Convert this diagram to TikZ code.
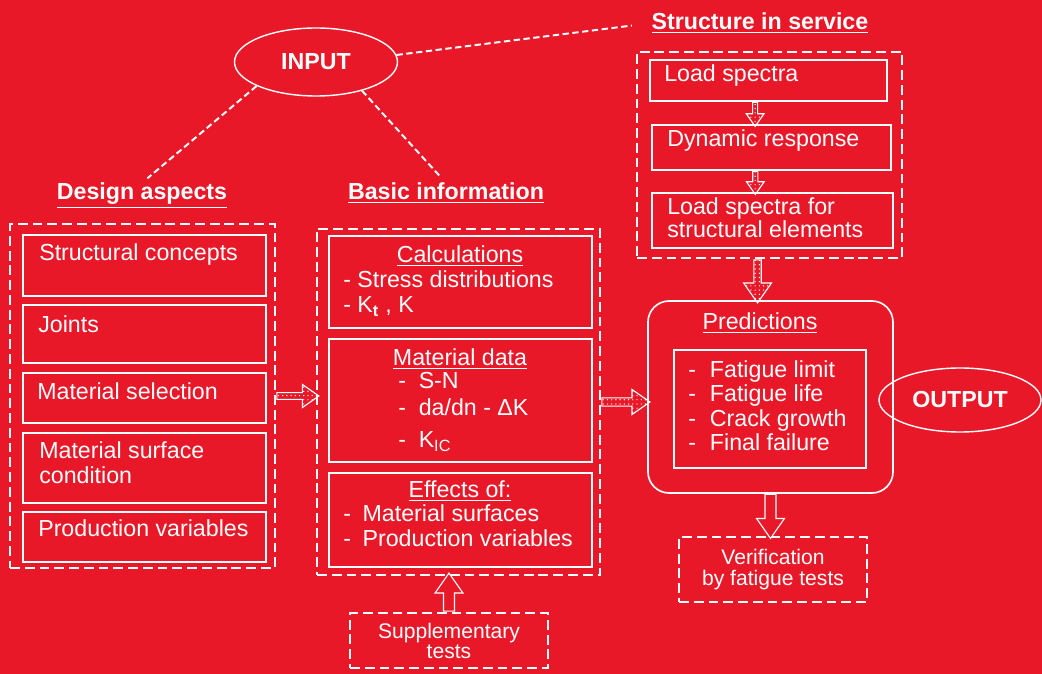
\documentclass[tikz,border=0pt]{standalone}
\usepackage{fontspec}
\setmainfont{Liberation Sans}
\usetikzlibrary{shapes.geometric,shapes.arrows,fit,patterns}
\definecolor{bg}{RGB}{232,24,40}
\newcommand{\itm}[1]{-\hspace{#1}}

\begin{document}
\begin{tikzpicture}[x=0.025cm, y=-0.025cm,
  every node/.style={text=white, inner sep=0pt, font=\fontsize{16.5}{17.8}\selectfont},
  box/.style={draw=white, line width=1.2pt},
  frame/.style={draw=white, line width=1.9pt, dash pattern=on 7pt off 3.5pt},
  heading/.style={anchor=base, font=\fontsize{16.5}{17.8}\selectfont\bfseries},
  oval/.style={ellipse, draw=white, line width=1pt, font=\fontsize{16.5}{17.8}\selectfont\bfseries},
  link/.style={draw=white, line width=1.4pt, dash pattern=on 4.5pt off 2.5pt},
  txt/.style={anchor=base west, align=left},
  arrowbase/.style={single arrow, draw=white, line width=0.8pt, sloped, allow upside down, single arrow tip angle=70, anchor=tail, pos=0},
  dotarrow/.style={arrowbase, pattern=dots, pattern color=white, inner sep=2.2pt, single arrow head extend=6pt},
  openarrow/.style={arrowbase, fill=bg, inner sep=3.5pt, single arrow head extend=6pt}
]

\useasboundingbox[fill=bg] (0,0) rectangle (1042,674);

% input and titles
\node[oval, minimum width=163*0.025cm, minimum height=68*0.025cm] (input) at (316,62) {INPUT};
\node[heading] (design title) at (142,200) {\underline{Design aspects}};
\node[heading] (basic title) at (446,200) {\underline{Basic information}};
\node[heading] (service title) at (760,30) {\underline{Structure in service}};

\draw[link, shorten >=5pt] (input.202) -- (design title.north);
\draw[link, shorten >=5pt] (input.328) -- (basic title.north);
\draw[link, shorten >=14pt] (input.5) -- (service title.west);

% design aspects
\node[frame, fit={(10,224) (275,568)}] (design) {};
\node[box, fit={(23,235) (266,296)}] (concepts) {};
\node[box, fit={(23,305) (266,363)}] (joints) {};
\node[box, fit={(23,373) (266,423)}] (selection) {};
\node[box, fit={(23,433) (266,503)}] (surface) {};
\node[box, fit={(23,512) (266,562)}] (production) {};

% multi-line texts sit on their last line
\node[txt] (concepts text) at (39,261) {Structural concepts};
\node[txt] (joints text) at (38,333) {Joints};
\node[txt] (selection text) at (37,400) {Material selection};
\node[txt] (surface text) at (39,484) {Material surface\\condition};
\node[txt] (production text) at (38,537) {Production variables};

% basic information
\node[frame, fit={(317,229) (600,575)}] (basic) {};
\node[box, fit={(329,236) (592,328)}] (calc) {};
\node[box, fit={(329,339) (592,462)}] (matdata) {};
\node[box, fit={(329,473) (592,567)}] (effects) {};

\node[anchor=base] (calc title) at (460,263) {\underline{Calculations}};
\node[txt] (calc text) at (343,313) {- Stress distributions\\- K\textsubscript{\textbf{t}} , K};
\node[anchor=base] (matdata title) at (460,366) {\underline{Material data}};
\node[txt, font=\fontsize{16.5}{19.2}\selectfont] (matdata text) at (398,448) {\itm{0.55em}S-N\\\itm{0.55em}da/dn - ΔK\\[3.6pt]\itm{0.55em}K\textsubscript{IC}};
\node[anchor=base] (effects title) at (460,498) {\underline{Effects of:}};
\node[txt] (effects text) at (343,547) {\itm{0.5em}Material surfaces\\\itm{0.5em}Production variables};

% structure in service
\node[frame, fit={(637,52) (902,258)}] (service) {};
\node[box, fit={(650,60) (887,101)}] (spectra) {};
\node[box, fit={(652,125) (891,170)}] (dynamic) {};
\node[box, fit={(652,193) (893,248)}] (elements) {};

\node[txt] (spectra text) at (664,82) {Load spectra};
\node[txt] (dynamic text) at (667,147) {Dynamic response};
\node[txt, font=\fontsize{16.5}{16.4}\selectfont] (elements text) at (667,238) {Load spectra for\\structural elements};

% predictions and output
\node[box, rounded corners=15pt, fit={(648,301) (893,493)}] (pred) {};
\node[box, fit={(674,350) (866,468)}] (predlist) {};
\node[anchor=base] (pred title) at (760,330) {\underline{Predictions}};
\node[txt, font=\fontsize{16.5}{17.5}\selectfont] (predlist text) at (688,451) {\itm{0.6em}Fatigue limit\\\itm{0.6em}Fatigue life\\\itm{0.6em}Crack growth\\\itm{0.6em}Final failure};
\node[oval, minimum width=162*0.025cm, minimum height=64*0.025cm] (output) at (960,400) {OUTPUT};

\node[frame, minimum width=188*0.025cm, minimum height=65*0.025cm, align=center, font=\fontsize{15}{14.5}\selectfont] (verif) at (773,569.5) {Verification\\by fatigue tests};
\node[frame, minimum width=198*0.025cm, minimum height=55*0.025cm, align=center, font=\fontsize{15}{14.2}\selectfont] (supp) at (449,640.5) {Supplementary\\tests};

% block arrows
\path (design.east) -- node[dotarrow, inner sep=2pt, single arrow head extend=5.8pt, minimum height=42*0.025cm] (a1) {} (design.east -| basic.west);
\path (basic.east) -- node[dotarrow, inner sep=2.5pt, minimum height=48*0.025cm] (a2) {} (basic.east -| pred.west);
\path ([xshift=-8.5pt]service.south) -- node[dotarrow, single arrow head extend=7.3pt, minimum height=43*0.025cm] (a3) {} ([xshift=-8.5pt]service.south |- pred.north);
\path ([xshift=-9.5pt]spectra.south) -- node[dotarrow, inner sep=1.4pt, single arrow head extend=4.5pt, minimum height=24*0.025cm] (s1) {} ([xshift=-9.5pt]spectra.south |- dynamic.north);
\path ([xshift=-11.5pt]dynamic.south) -- node[dotarrow, inner sep=1.4pt, single arrow head extend=4.5pt, minimum height=23*0.025cm] (s2) {} ([xshift=-11.5pt]dynamic.south |- elements.north);
\path (pred.south) -- node[openarrow, minimum height=44*0.025cm] (a4) {} (pred.south |- verif.north);
\path (supp.north) -- node[openarrow, minimum height=38*0.025cm] (a5) {} (supp.north |- basic.south);

\end{tikzpicture}
\end{document}
